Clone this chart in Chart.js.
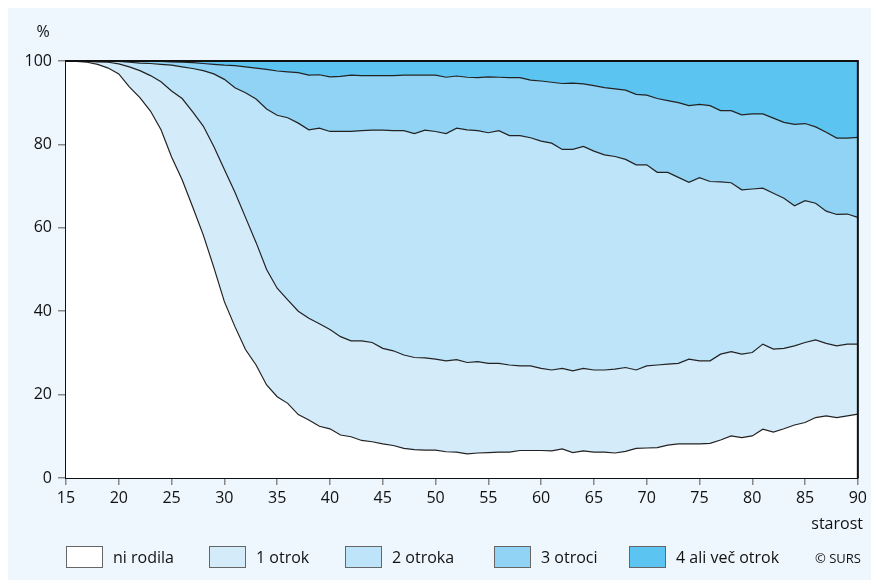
<!DOCTYPE html>
<html>
<head>
<meta charset="utf-8">
<script src="https://cdn.jsdelivr.net/npm/chart.js@4/dist/chart.umd.min.js"></script>
<style>
  html, body { margin: 0; padding: 0; background: #fff; }
  #wrap { width: 871px; height: 580px; }
</style>
</head>
<body>
<div id="wrap"><canvas id="chart" width="871" height="580"></canvas></div>
<script>
// starost (age)
var ages = [15, 16, 17, 18, 19, 20, 21, 22, 23, 24, 25, 26, 27, 28, 29, 30, 31, 32, 33, 34,
    35, 36, 37, 38, 39, 40, 41, 42, 43, 44, 45, 46, 47, 48, 49, 50, 51, 52, 53, 54,
    55, 56, 57, 58, 59, 60, 61, 62, 63, 64, 65, 66, 67, 68, 69, 70, 71, 72, 73, 74,
    75, 76, 77, 78, 79, 80, 81, 82, 83, 84, 85, 86, 87, 88, 89, 90];

// cumulative % (upper edge of each band)
var niRodila = [100, 99.9, 99.7, 99.2, 98.3, 96.9, 93.8, 91.2, 88, 83.5, 77, 71.5, 65, 58.3, 50.5, 42.3, 36.3, 30.8, 27.1, 22.3,
    19.5, 17.9, 15.2, 13.9, 12.4, 11.8, 10.3, 9.9, 9.0, 8.7, 8.2, 7.8, 7.1, 6.8, 6.7, 6.7, 6.3, 6.2, 5.8, 6.0,
    6.1, 6.2, 6.2, 6.6, 6.6, 6.6, 6.5, 7.0, 6.1, 6.5, 6.2, 6.2, 6.0, 6.4, 7.1, 7.2, 7.3, 7.9, 8.2, 8.2,
    8.2, 8.3, 9.1, 10.1, 9.7, 10.1, 11.7, 11.0, 11.8, 12.7, 13.3, 14.5, 14.9, 14.5, 14.9, 15.3];

var do1 = [100, 100, 99.9, 99.8, 99.7, 99.3, 98.6, 97.7, 96.5, 95, 92.8, 91, 87.8, 84.4, 79.5, 74, 68.5, 62.5, 56.5, 50,
    45.5, 42.7, 40, 38.3, 37, 35.6, 33.9, 32.9, 32.9, 32.5, 31.1, 30.5, 29.5, 28.9, 28.8, 28.5, 28.1, 28.4, 27.7, 27.9,
    27.5, 27.5, 27.1, 26.9, 26.9, 26.3, 25.9, 26.3, 25.7, 26.3, 25.9, 25.9, 26.1, 26.5, 25.9, 26.9, 27.1, 27.3, 27.5, 28.5,
    28.1, 28.1, 29.7, 30.3, 29.7, 30.1, 32.1, 30.9, 31.1, 31.7, 32.5, 33.1, 32.3, 31.7, 32.1, 32.1];

var do2 = [100, 100, 100, 100, 99.9, 99.9, 99.7, 99.5, 99.4, 99.2, 99.0, 98.6, 98.2, 97.7, 96.9, 95.6, 93.6, 92.4, 90.9, 88.5,
    87.0, 86.4, 85.1, 83.5, 83.9, 83.1, 83.1, 83.1, 83.3, 83.4, 83.4, 83.3, 83.3, 82.6, 83.4, 83.1, 82.6, 83.9, 83.5, 83.3,
    82.8, 83.3, 82.1, 82.1, 81.6, 80.8, 80.3, 78.8, 78.8, 79.5, 78.4, 77.5, 77.1, 76.4, 75.1, 75.1, 73.3, 73.3, 72.1, 70.9,
    72.0, 71.1, 71.0, 70.8, 69.1, 69.3, 69.5, 68.3, 67.1, 65.3, 66.5, 65.9, 64.0, 63.2, 63.3, 62.5];

var do3 = [100, 100, 100, 100, 100, 100, 100, 100, 99.9, 99.9, 99.8, 99.7, 99.6, 99.4, 99.2, 99.0, 98.9, 98.6, 98.3, 98.0,
    97.6, 97.4, 97.2, 96.6, 96.7, 96.2, 96.3, 96.6, 96.5, 96.5, 96.5, 96.5, 96.6, 96.6, 96.6, 96.6, 96.1, 96.4, 96.1, 96.0,
    96.2, 96.1, 96.0, 96.0, 95.4, 95.2, 94.9, 94.6, 94.7, 94.5, 94.1, 93.6, 93.3, 93.0, 92.0, 91.8, 91.0, 90.5, 90.0, 89.3,
    89.6, 89.3, 88.1, 88.1, 87.1, 87.3, 87.3, 86.3, 85.3, 84.8, 85.0, 84.2, 82.9, 81.5, 81.5, 81.7];

var skupaj = ages.map(function () { return 100; });

var labels = ["ni rodila", "1 otrok", "2 otroka", "3 otroci", "4 ali več otrok"];
var colors = ["#ffffff", "#d4ebfa", "#bde4f9", "#90d3f5", "#5bc4f1"];
var yTicks = [0, 20, 40, 60, 80, 100];

function pts(arr) {
    return ages.map(function (a, i) { return { x: a, y: arr[i] }; });
}

var FONT = "'Open Sans', 'Noto Sans', sans-serif";
var series = [niRodila, do1, do2, do3, skupaj];

var datasets = series.map(function (arr, i) {
    return {
        label: labels[i],
        data: pts(arr),
        backgroundColor: colors[i],
        borderColor: i == 4 ? "rgba(0,0,0,0)" : "#222",
        borderWidth: 1.2,
        pointRadius: 0,
        tension: 0,
        fill: i == 0 ? "origin" : "-1"
    };
});

var decor = {
    id: "decor",
    beforeDraw: function (chart) {
        var ctx = chart.ctx;
        ctx.save();
        ctx.fillStyle = "#ffffff";
        ctx.fillRect(0, 0, chart.width, chart.height);
        ctx.fillStyle = "#eef7fe";
        ctx.fillRect(8, 8, chart.width - 8, chart.height - 8);
        ctx.restore();
    },
    afterDraw: function (chart) {
        var ctx = chart.ctx;
        var a = chart.chartArea;
        ctx.save();
        // frame
        ctx.strokeStyle = "#111";
        ctx.lineWidth = 2;
        ctx.beginPath();
        ctx.moveTo(a.left, a.top);
        ctx.lineTo(a.right, a.top);
        ctx.lineTo(a.right, a.bottom);
        ctx.stroke();

        ctx.fillStyle = "#111";
        ctx.font = "16px " + FONT;
        ctx.textBaseline = "middle";
        ctx.textAlign = "center";
        ctx.fillText("%", 43, 32);
        ctx.textAlign = "right";
        ctx.fillText("starost", 863, 524);

        // legend
        var boxX = [66, 209, 345, 494, 629];
        for (var i = 0; i < labels.length; i++) {
            ctx.fillStyle = colors[i];
            ctx.fillRect(boxX[i], 546, 37, 22);
            ctx.strokeStyle = "#666";
            ctx.lineWidth = 1;
            ctx.strokeRect(boxX[i] + 0.5, 546.5, 36, 21);
            ctx.fillStyle = "#111";
            ctx.textAlign = "left";
            ctx.font = "16px " + FONT;
            ctx.fillText(labels[i], boxX[i] + 47, 558);
        }
        ctx.font = "13px " + FONT;
        ctx.textAlign = "right";
        ctx.fillText("© SURS", 861, 559);
        ctx.restore();
    }
};

new Chart(document.getElementById("chart").getContext("2d"), {
    type: "line",
    data: { datasets: datasets },
    options: {
        responsive: false,
        animation: false,
        layout: { padding: { top: 61, right: 11, left: 0, bottom: 0 } },
        plugins: {
            legend: { display: false },
            tooltip: { enabled: false },
            filler: { propagate: false }
        },
        scales: {
            x: {
                type: "linear",
                min: 15,
                max: 90,
                afterFit: function (s) { s.height = 102; },
                grid: { drawOnChartArea: false, color: "#888", tickLength: 7, lineWidth: 1.5 },
                border: { color: "#111", width: 2 },
                ticks: {
                    stepSize: 5,
                    padding: 4,
                    color: "#111",
                    font: { family: FONT, size: 16 }
                }
            },
            y: {
                min: 0,
                max: 100,
                afterFit: function (s) { s.width = 66; },
                afterBuildTicks: function (s) {
                    s.ticks = yTicks.map(function (v) { return { value: v }; });
                },
                grid: { drawOnChartArea: false, color: "#888", tickLength: 8, lineWidth: 1.5 },
                border: { color: "#111", width: 2 },
                ticks: {
                    padding: 6,
                    color: "#111",
                    font: { family: FONT, size: 16 }
                }
            }
        }
    },
    plugins: [decor]
});
</script>
</body>
</html>
